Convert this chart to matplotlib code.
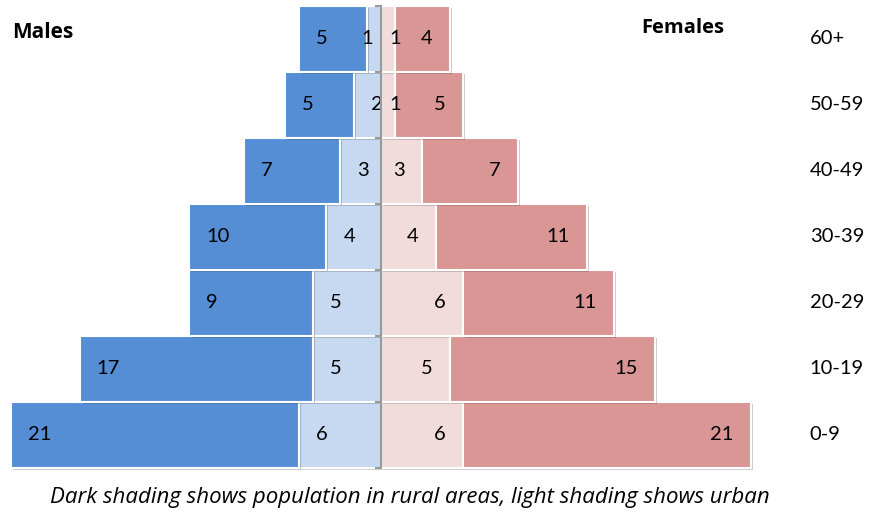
import matplotlib.pyplot as plt
import matplotlib.patheffects as pe

ages = ["0-9", "10-19", "20-29", "30-39", "40-49", "50-59", "60+"]
male_rural = [21, 17, 9, 10, 7, 5, 5]
male_urban = [6, 5, 5, 4, 3, 2, 1]
female_urban = [6, 5, 6, 4, 3, 1, 1]
female_rural = [21, 15, 11, 11, 7, 5, 4]

plt.rcParams['font.family'] = ['Lato', 'DejaVu Sans']

fig = plt.figure(figsize=(8.69, 5.12), dpi=100)
ax = fig.add_axes([0, 0, 1, 1])
y = list(range(len(ages)))
shadow = [pe.SimplePatchShadow(offset=(1.5, -1.5), alpha=0.25), pe.Normal()]

mu = [-v for v in male_urban]
mr = [-v for v in male_rural]
bars = []
bars.append(ax.barh(y, mu, height=1.0, color='#C6D9F1', edgecolor='white', linewidth=1.5))
bars.append(ax.barh(y, mr, left=mu, height=1.0, color='#558ED5', edgecolor='white', linewidth=1.5))
bars.append(ax.barh(y, female_urban, height=1.0, color='#F2DCDB', edgecolor='white', linewidth=1.5))
bars.append(ax.barh(y, female_rural, left=female_urban, height=1.0, color='#D99694', edgecolor='white', linewidth=1.5))
for b in bars:
    for p in b:
        p.set_path_effects(shadow)

pad = 1.25
fs = 14.5
for i in y:
    # males: labels near the outer (left) edge
    outer = -(male_urban[i] + male_rural[i])
    ax.text(outer + pad, i, str(male_rural[i]), ha='left', va='center', fontsize=fs)
    outer = -male_urban[i]
    if male_urban[i] < 1.5:
        ax.text(outer, i, str(male_urban[i]), ha='center', va='center', fontsize=fs)
    else:
        ax.text(outer + pad, i, str(male_urban[i]), ha='left', va='center', fontsize=fs)
    # females: labels near the outer (right) edge
    outer = female_urban[i]
    if female_urban[i] < 1.5:
        ax.text(outer, i, str(female_urban[i]), ha='center', va='center', fontsize=fs)
    else:
        ax.text(outer - pad, i, str(female_urban[i]), ha='right', va='center', fontsize=fs)
    outer = female_urban[i] + female_rural[i]
    ax.text(outer - pad, i, str(female_rural[i]), ha='right', va='center', fontsize=fs)
    ax.text(31.3, i, ages[i], ha='left', va='center', fontsize=fs)

ax.text(-26.9, 6.1, "Males", ha='left', va='center', fontsize=15, fontweight='bold',
        family=['Open Sans', 'DejaVu Sans'])
ax.text(19.0, 6.17, "Females", ha='left', va='center', fontsize=14.5, fontweight='bold',
        family=['Open Sans', 'DejaVu Sans'])

ax.set_xlim(-381 / 13.7, (869 - 381) / 13.7)
ax.set_ylim(-77 / 66, 6 + 39 / 66)

for s in ['top', 'right', 'bottom']:
    ax.spines[s].set_visible(False)
ax.spines['left'].set_position(('data', 0))
ax.spines['left'].set_bounds(-0.5, len(ages) - 0.5)
ax.spines['left'].set_color('#9a9a9a')
ax.spines['left'].set_linewidth(1.5)
ax.spines['left'].set_zorder(5)
ax.set_yticks([k - 0.5 for k in range(len(ages) + 1)])
ax.set_yticklabels([])
ax.tick_params(axis='y', direction='out', length=4, width=1.5, color='#9a9a9a')
ax.set_xticks([])

fig.text(410 / 869, 1 - 497 / 512, "Dark shading shows population in rural areas, light shading shows urban",
         ha='center', va='center', fontsize=16, style='italic', family=['Open Sans', 'DejaVu Sans'])

fig.savefig("out.png", dpi=100)
